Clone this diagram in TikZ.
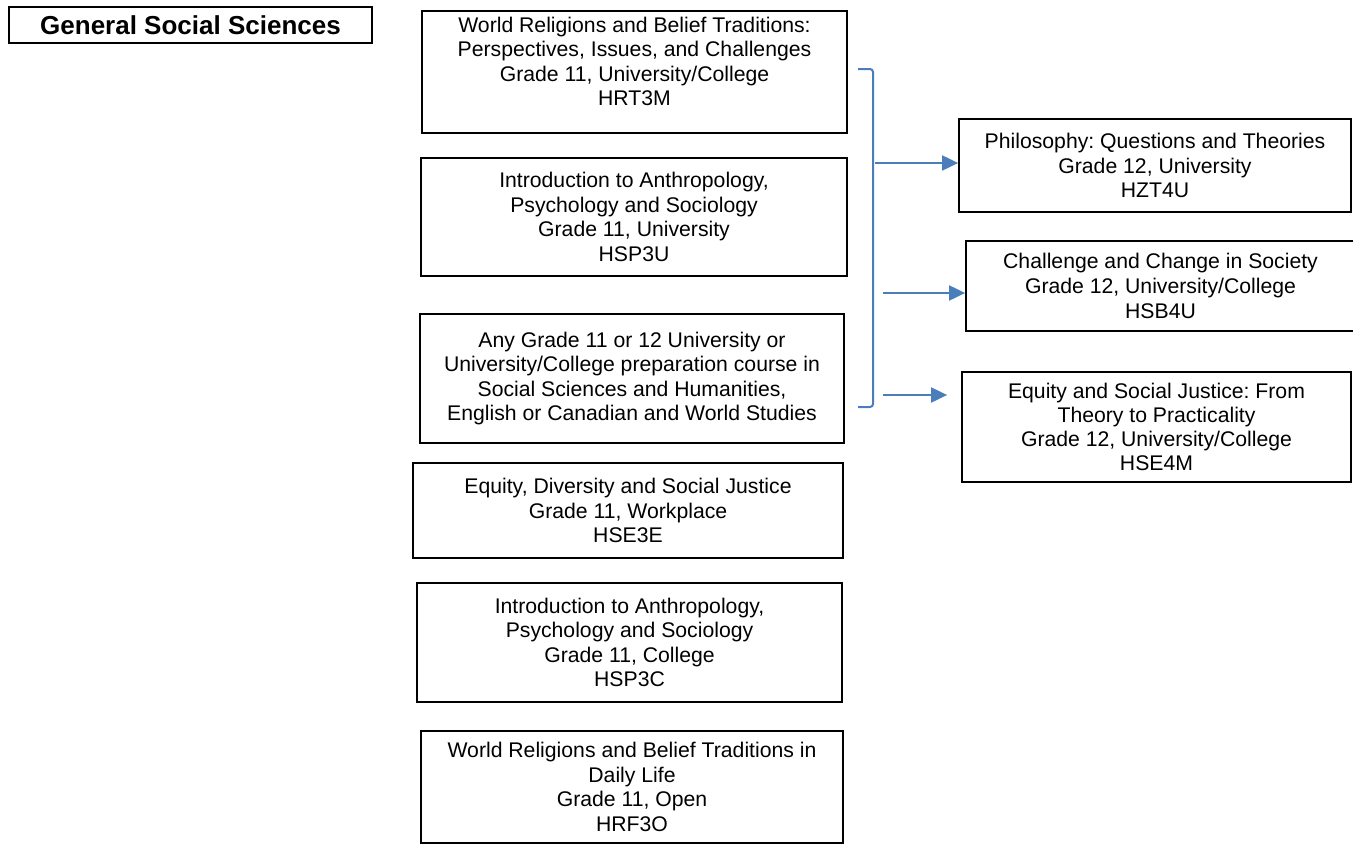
\documentclass[tikz,border=0pt]{standalone}
\usepackage{fontspec}
\setmainfont{Liberation Sans}
\usetikzlibrary{arrows.meta}
\frenchspacing
\definecolor{linkblue}{HTML}{4A7EBB}
\tikzset{
  frame/.style={draw=black, line width=0.9pt, fill=white, inner sep=0pt},
  course/.style={frame, align=center, font=\fontsize{10.6}{12.3}\selectfont},
  coursetext/.style={align=center, inner sep=0pt, font=\fontsize{10.6}{12.3}\selectfont},
  heading/.style={frame, font=\fontsize{13}{15}\selectfont\bfseries},
  bracket/.style={draw=linkblue, line width=1pt, rounded corners=1.5pt},
  link/.style={draw=linkblue, line width=1pt, -{Triangle[length=8pt, width=7.5pt]}}
}
\begin{document}
\begin{tikzpicture}[x=0.5pt, y=-0.5pt]
\useasboundingbox (0,0) rectangle (1353,846);

% heading
\node[heading, minimum width=181.5pt, minimum height=18pt] (title) at (190.5,25) {General Social Sciences};

% Grade 11 prerequisite courses
\node[frame, minimum width=212.5pt, minimum height=61pt] (hrt) at (634.5,72) {};
\node[coursetext] (hrt-text) at (634.5,61.5) {World Religions and Belief Traditions:\\Perspectives, Issues, and Challenges\\Grade 11, University/College\\HRT3M};

\node[course, minimum width=213pt, minimum height=59pt] (hsp3u) at (634,217) {Introduction to Anthropology,\\Psychology and Sociology\\Grade 11, University\\HSP3U};

\node[course, minimum width=212pt, minimum height=64.5pt] (any) at (632,378.5) {Any Grade 11 or 12 University or\\University/College preparation course in\\Social Sciences and Humanities,\\English or Canadian and World Studies};

\node[course, minimum width=215pt, minimum height=47.5pt] (hse3e) at (628,510.5) {Equity, Diversity and Social Justice\\Grade 11, Workplace\\HSE3E};

\node[course, minimum width=212.5pt, minimum height=59.5pt] (hsp3c) at (629.5,642.5) {Introduction to Anthropology,\\Psychology and Sociology\\Grade 11, College\\HSP3C};

\node[course, minimum width=211pt, minimum height=56pt] (hrf) at (632,787) {World Religions and Belief Traditions in\\Daily Life\\Grade 11, Open\\HRF3O};

% Grade 12 courses
\node[course, minimum width=196pt, minimum height=46.5pt] (hzt) at (1155,165.5) {Philosophy: Questions and Theories\\Grade 12, University\\HZT4U};

\node[course, minimum width=194.5pt, minimum height=45pt] (hsb) at (1160.5,286) {Challenge and Change in Society\\Grade 12, University/College\\HSB4U};

\node[course, minimum width=194.5pt, minimum height=55pt, font=\fontsize{10.6}{12}\selectfont] (hse4m) at (1156.5,427) {Equity and Social Justice: From\\Theory to Practicality\\Grade 12, University/College\\HSE4M};

% bracket grouping the prerequisites
\coordinate (btop) at (858,69);
\coordinate (bbot) at (858,407);
\draw[bracket] (btop) -- (873,69) -- (873,407) -- (bbot);

% arrows to the Grade 12 courses
\coordinate (a1) at (875,163);
\coordinate (a2) at (883,293);
\coordinate (a3) at (883,395);
\draw[link] (a1) -- (hzt.west |- a1);
\draw[link] (a2) -- (hsb.west |- a2);
\draw[link, shorten >=7pt] (a3) -- (hse4m.west |- a3);
\end{tikzpicture}
\end{document}
